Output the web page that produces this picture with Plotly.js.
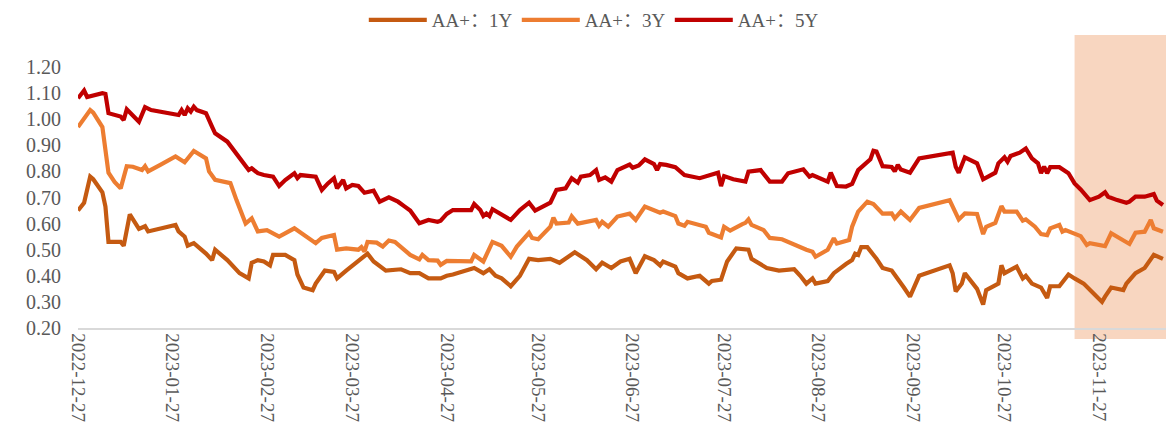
<!DOCTYPE html>
<html>
<head>
<meta charset="utf-8">
<script src="https://cdn.plot.ly/plotly-3.0.1.min.js"></script>
<style>html,body{margin:0;padding:0;background:#fff;}#chart{width:1166px;height:436px;}</style>
</head>
<body>
<div id="chart"></div>
<script>
const seriesNames = ['AA+：1Y', 'AA+：3Y', 'AA+：5Y'];

const dates1Y = ['2022-12-27','2022-12-29','2022-12-31','2023-01-01','2023-01-04','2023-01-05','2023-01-06','2023-01-10','2023-01-11','2023-01-13','2023-01-16','2023-01-18','2023-01-19','2023-01-28','2023-01-29','2023-01-31','2023-02-01','2023-02-03','2023-02-07','2023-02-09','2023-02-10','2023-02-14','2023-02-18','2023-02-21','2023-02-22','2023-02-24','2023-02-26','2023-02-28','2023-03-01','2023-03-05','2023-03-08','2023-03-09','2023-03-11','2023-03-14','2023-03-15','2023-03-18','2023-03-21','2023-03-22','2023-03-25','2023-03-29','2023-04-01','2023-04-03','2023-04-07','2023-04-12','2023-04-15','2023-04-18','2023-04-21','2023-04-25','2023-04-27','2023-04-29','2023-05-06','2023-05-09','2023-05-11','2023-05-13','2023-05-15','2023-05-18','2023-05-21','2023-05-24','2023-05-27','2023-05-31','2023-06-03','2023-06-08','2023-06-12','2023-06-15','2023-06-17','2023-06-20','2023-06-23','2023-06-26','2023-06-28','2023-07-01','2023-07-04','2023-07-06','2023-07-07','2023-07-11','2023-07-12','2023-07-15','2023-07-19','2023-07-22','2023-07-23','2023-07-26','2023-07-28','2023-07-31','2023-08-04','2023-08-05','2023-08-10','2023-08-14','2023-08-19','2023-08-21','2023-08-23','2023-08-25','2023-08-26','2023-08-30','2023-09-01','2023-09-05','2023-09-07','2023-09-08','2023-09-09','2023-09-10','2023-09-12','2023-09-15','2023-09-17','2023-09-20','2023-09-22','2023-09-24','2023-09-26','2023-09-29','2023-10-09','2023-10-10','2023-10-11','2023-10-13','2023-10-14','2023-10-18','2023-10-20','2023-10-21','2023-10-25','2023-10-26','2023-10-27','2023-10-31','2023-11-02','2023-11-03','2023-11-05','2023-11-08','2023-11-10','2023-11-11','2023-11-14','2023-11-17','2023-11-19','2023-11-22','2023-11-25','2023-11-28','2023-11-29','2023-12-01','2023-12-05','2023-12-06','2023-12-09','2023-12-12','2023-12-15','2023-12-16','2023-12-18'];
const values1Y = [0.65,0.68,0.78,0.77,0.72,0.665,0.53,0.53,0.515,0.635,0.58,0.59,0.57,0.595,0.57,0.55,0.515,0.525,0.485,0.46,0.50,0.46,0.41,0.39,0.45,0.46,0.455,0.44,0.48,0.48,0.46,0.405,0.355,0.345,0.37,0.42,0.415,0.39,0.42,0.46,0.485,0.455,0.42,0.425,0.41,0.41,0.39,0.39,0.40,0.405,0.43,0.41,0.425,0.40,0.39,0.36,0.40,0.465,0.46,0.465,0.45,0.49,0.46,0.425,0.45,0.43,0.455,0.465,0.41,0.475,0.46,0.44,0.455,0.435,0.41,0.39,0.40,0.37,0.38,0.385,0.455,0.505,0.50,0.465,0.43,0.42,0.425,0.40,0.37,0.39,0.37,0.38,0.41,0.445,0.46,0.485,0.48,0.51,0.51,0.465,0.43,0.42,0.39,0.355,0.32,0.40,0.44,0.41,0.34,0.37,0.41,0.35,0.29,0.345,0.37,0.44,0.41,0.435,0.39,0.40,0.37,0.355,0.315,0.36,0.36,0.405,0.39,0.37,0.335,0.30,0.32,0.355,0.345,0.37,0.41,0.43,0.48,0.475,0.465];

const dates3Y = ['2022-12-27','2022-12-29','2022-12-31','2023-01-01','2023-01-04','2023-01-06','2023-01-08','2023-01-10','2023-01-12','2023-01-14','2023-01-17','2023-01-18','2023-01-19','2023-01-23','2023-01-28','2023-01-31','2023-02-03','2023-02-07','2023-02-08','2023-02-10','2023-02-15','2023-02-17','2023-02-20','2023-02-22','2023-02-24','2023-02-27','2023-03-03','2023-03-08','2023-03-12','2023-03-15','2023-03-17','2023-03-21','2023-03-22','2023-03-25','2023-03-29','2023-03-30','2023-03-31','2023-04-01','2023-04-04','2023-04-06','2023-04-08','2023-04-10','2023-04-15','2023-04-18','2023-04-19','2023-04-21','2023-04-24','2023-04-25','2023-04-27','2023-05-05','2023-05-06','2023-05-09','2023-05-12','2023-05-15','2023-05-18','2023-05-20','2023-05-24','2023-05-25','2023-05-27','2023-05-31','2023-06-01','2023-06-02','2023-06-06','2023-06-07','2023-06-09','2023-06-15','2023-06-16','2023-06-17','2023-06-19','2023-06-22','2023-06-26','2023-06-28','2023-07-01','2023-07-04','2023-07-06','2023-07-07','2023-07-11','2023-07-12','2023-07-14','2023-07-15','2023-07-21','2023-07-22','2023-07-26','2023-07-27','2023-07-29','2023-08-02','2023-08-03','2023-08-04','2023-08-05','2023-08-09','2023-08-11','2023-08-15','2023-08-19','2023-08-23','2023-08-25','2023-08-26','2023-08-30','2023-09-01','2023-09-02','2023-09-06','2023-09-07','2023-09-09','2023-09-12','2023-09-14','2023-09-17','2023-09-20','2023-09-21','2023-09-23','2023-09-26','2023-09-29','2023-10-09','2023-10-12','2023-10-14','2023-10-18','2023-10-20','2023-10-21','2023-10-24','2023-10-26','2023-10-27','2023-10-31','2023-11-02','2023-11-03','2023-11-06','2023-11-08','2023-11-10','2023-11-11','2023-11-14','2023-11-15','2023-11-16','2023-11-21','2023-11-23','2023-11-24','2023-11-29','2023-12-01','2023-12-07','2023-12-09','2023-12-12','2023-12-14','2023-12-15','2023-12-18'];
const values3Y = [0.97,1.00,1.035,1.025,0.97,0.795,0.76,0.735,0.82,0.818,0.805,0.82,0.80,0.825,0.857,0.835,0.878,0.85,0.80,0.768,0.755,0.69,0.60,0.62,0.57,0.575,0.55,0.582,0.55,0.525,0.545,0.556,0.50,0.505,0.50,0.51,0.493,0.53,0.527,0.512,0.535,0.53,0.48,0.463,0.48,0.46,0.458,0.442,0.457,0.455,0.48,0.455,0.53,0.515,0.473,0.512,0.565,0.545,0.54,0.588,0.623,0.60,0.604,0.628,0.60,0.614,0.592,0.607,0.588,0.627,0.638,0.614,0.665,0.65,0.642,0.646,0.629,0.60,0.592,0.607,0.588,0.565,0.547,0.588,0.573,0.598,0.603,0.616,0.595,0.575,0.545,0.54,0.518,0.50,0.492,0.473,0.50,0.544,0.524,0.537,0.588,0.646,0.684,0.675,0.638,0.639,0.62,0.646,0.614,0.66,0.69,0.616,0.639,0.637,0.56,0.588,0.603,0.667,0.646,0.646,0.611,0.616,0.588,0.56,0.556,0.582,0.595,0.569,0.575,0.552,0.518,0.525,0.514,0.563,0.522,0.565,0.569,0.614,0.582,0.569];

const dates5Y = ['2022-12-27','2022-12-29','2022-12-30','2023-01-01','2023-01-04','2023-01-05','2023-01-06','2023-01-10','2023-01-11','2023-01-12','2023-01-14','2023-01-16','2023-01-18','2023-01-20','2023-01-29','2023-01-30','2023-01-31','2023-02-01','2023-02-02','2023-02-03','2023-02-04','2023-02-07','2023-02-09','2023-02-10','2023-02-14','2023-02-16','2023-02-19','2023-02-21','2023-02-22','2023-02-24','2023-02-26','2023-03-01','2023-03-03','2023-03-05','2023-03-08','2023-03-09','2023-03-10','2023-03-15','2023-03-16','2023-03-17','2023-03-19','2023-03-21','2023-03-22','2023-03-24','2023-03-25','2023-03-27','2023-03-29','2023-03-31','2023-04-03','2023-04-05','2023-04-08','2023-04-11','2023-04-13','2023-04-15','2023-04-18','2023-04-21','2023-04-24','2023-04-25','2023-04-27','2023-04-29','2023-05-05','2023-05-06','2023-05-08','2023-05-09','2023-05-10','2023-05-11','2023-05-12','2023-05-14','2023-05-16','2023-05-18','2023-05-21','2023-05-24','2023-05-26','2023-05-28','2023-05-31','2023-06-02','2023-06-05','2023-06-07','2023-06-09','2023-06-10','2023-06-13','2023-06-15','2023-06-16','2023-06-18','2023-06-20','2023-06-22','2023-06-26','2023-06-27','2023-06-29','2023-07-01','2023-07-04','2023-07-05','2023-07-06','2023-07-08','2023-07-11','2023-07-14','2023-07-19','2023-07-25','2023-07-26','2023-07-27','2023-07-30','2023-08-03','2023-08-04','2023-08-08','2023-08-11','2023-08-15','2023-08-17','2023-08-22','2023-08-24','2023-08-25','2023-08-30','2023-08-31','2023-09-02','2023-09-05','2023-09-07','2023-09-09','2023-09-11','2023-09-13','2023-09-14','2023-09-15','2023-09-17','2023-09-20','2023-09-21','2023-09-22','2023-09-23','2023-09-26','2023-09-29','2023-10-09','2023-10-10','2023-10-11','2023-10-12','2023-10-14','2023-10-18','2023-10-20','2023-10-24','2023-10-25','2023-10-27','2023-10-28','2023-10-29','2023-11-01','2023-11-03','2023-11-05','2023-11-07','2023-11-08','2023-11-09','2023-11-10','2023-11-11','2023-11-14','2023-11-17','2023-11-19','2023-11-21','2023-11-24','2023-11-27','2023-11-29','2023-11-30','2023-12-03','2023-12-06','2023-12-07','2023-12-09','2023-12-12','2023-12-15','2023-12-16','2023-12-18'];
const values5Y = [1.08,1.11,1.085,1.09,1.10,1.097,1.023,1.01,0.997,1.038,1.016,0.99,1.046,1.035,1.016,1.035,1.016,1.042,1.029,1.048,1.035,1.023,0.971,0.946,0.914,0.882,0.837,0.805,0.812,0.793,0.786,0.78,0.744,0.767,0.793,0.774,0.786,0.78,0.754,0.729,0.754,0.774,0.735,0.767,0.735,0.748,0.744,0.718,0.726,0.684,0.701,0.684,0.667,0.65,0.601,0.614,0.607,0.611,0.637,0.652,0.652,0.675,0.652,0.629,0.639,0.629,0.655,0.642,0.627,0.614,0.652,0.68,0.65,0.662,0.68,0.729,0.735,0.774,0.757,0.78,0.786,0.805,0.767,0.777,0.761,0.805,0.826,0.814,0.823,0.846,0.828,0.805,0.828,0.825,0.816,0.786,0.774,0.795,0.744,0.782,0.77,0.761,0.799,0.805,0.761,0.761,0.793,0.808,0.78,0.786,0.761,0.795,0.744,0.742,0.752,0.805,0.828,0.846,0.879,0.876,0.82,0.817,0.80,0.825,0.807,0.795,0.85,0.867,0.872,0.818,0.795,0.854,0.831,0.77,0.795,0.831,0.854,0.837,0.859,0.872,0.888,0.85,0.831,0.793,0.818,0.793,0.816,0.816,0.793,0.754,0.731,0.69,0.703,0.72,0.703,0.69,0.68,0.684,0.703,0.703,0.713,0.688,0.671];

const tickDates = ['2022-12-27','2023-01-27','2023-02-27','2023-03-27','2023-04-27','2023-05-27','2023-06-27','2023-07-27','2023-08-27','2023-09-27','2023-10-27','2023-11-27'];
const yTicks = [0.2,0.3,0.4,0.5,0.6,0.7,0.8,0.9,1.0,1.1,1.2];
const highlightRange = ['2023-11-19','2023-12-19'];
const xRange = ['2022-12-27','2023-12-19'];

const colors = ['#C55A11', '#ED7D31', '#C00000'];
const FONT = '"Liberation Serif", "Noto Sans CJK SC", serif';

const traces = [
  {x: dates1Y, y: values1Y, name: seriesNames[0]},
  {x: dates3Y, y: values3Y, name: seriesNames[1]},
  {x: dates5Y, y: values5Y, name: seriesNames[2]}
].map((t, i) => Object.assign(t, {
  type: 'scatter', mode: 'lines',
  line: {color: colors[i], width: 4.2, shape: 'linear'},
  hoverinfo: 'skip'
}));

const layout = {
  width: 1166, height: 436,
  margin: {l: 78, r: 0, t: 67, b: 108},
  paper_bgcolor: '#ffffff', plot_bgcolor: 'rgba(0,0,0,0)',
  font: {family: FONT, size: 18, color: '#595959'},
  showlegend: true,
  legend: {
    orientation: 'h', xref: 'container', yref: 'container',
    x: 0.312, xanchor: 'left', y: 0.954, yanchor: 'middle',
    font: {family: FONT, size: 19, color: '#595959'},
    entrywidth: 80, entrywidthmode: 'pixels',
    itemwidth: 58, tracegroupgap: 0, bgcolor: 'rgba(0,0,0,0)'
  },
  xaxis: {
    type: 'date', range: xRange,
    tickmode: 'array', tickvals: tickDates, ticktext: tickDates,
    tickangle: 90, ticks: '', showgrid: false, zeroline: false,
    showline: true, linecolor: '#D9D9D9', linewidth: 1.5,
    tickfont: {family: FONT, size: 19, color: '#595959'}
  },
  yaxis: {
    range: [0.2, 1.2], tickmode: 'array', tickvals: yTicks,
    tickformat: '.2f', ticks: '', showgrid: false, zeroline: false,
    showline: false, ticklabelstandoff: 16,
    tickfont: {family: FONT, size: 20, color: '#595959'}
  },
  shapes: [{
    type: 'rect', layer: 'below', xref: 'x', yref: 'paper',
    x0: highlightRange[0], x1: highlightRange[1], y0: -0.042, y1: 1.1226,
    fillcolor: '#F8D6C0', line: {width: 0}
  }]
};

Plotly.newPlot('chart', traces, layout, {staticPlot: true, displayModeBar: false});
</script>
</body>
</html>
